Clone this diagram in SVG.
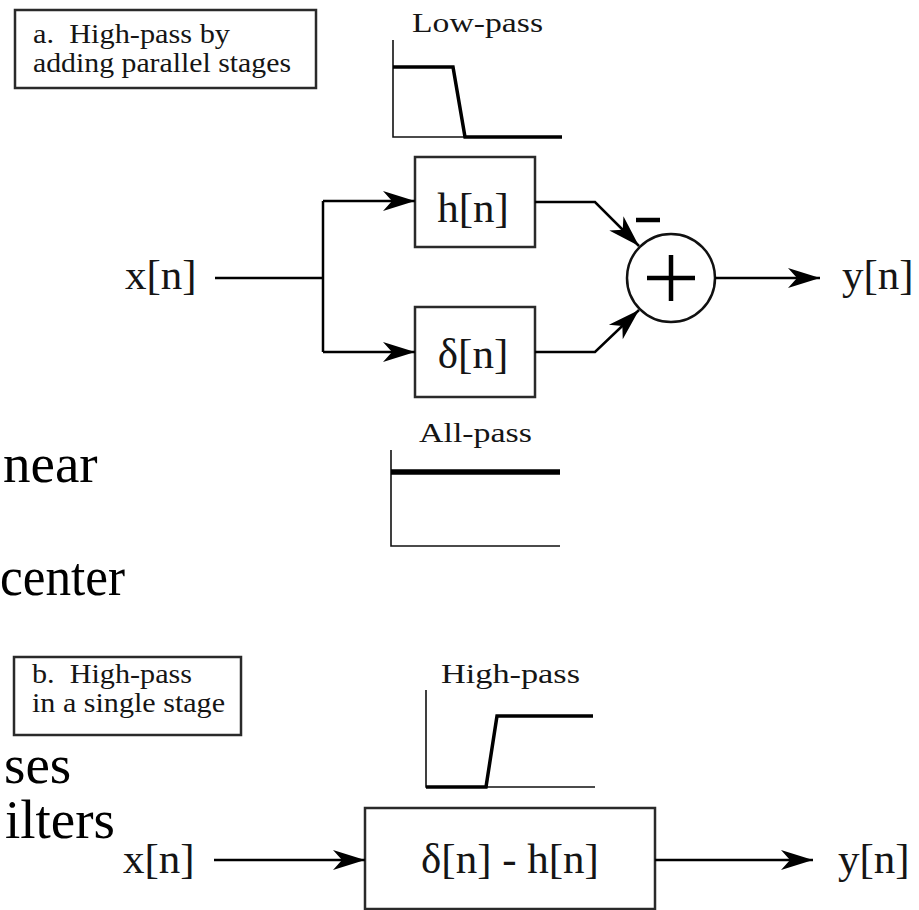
<svg xmlns="http://www.w3.org/2000/svg" width="919" height="910" viewBox="0 0 919 910">
<defs>
<style>
.bg{font-family:"Liberation Serif","Times New Roman",serif;font-size:55px;fill:#000}
.lbl{font-family:"Liberation Serif","Times New Roman",serif;font-size:27px;fill:#151515;white-space:pre}
.sig{font-family:"Liberation Serif","Times New Roman",serif;font-size:43px;fill:#151515}
.box{fill:#fff;stroke:#2a2a2a;stroke-width:2.5}
.wire{fill:none;stroke:#000;stroke-width:2.5}
.axis{fill:none;stroke:#111;stroke-width:1.6}
.resp{fill:none;stroke:#000;stroke-width:3.5;stroke-linejoin:miter}
</style>
<marker id="arr" markerUnits="userSpaceOnUse" markerWidth="34" markerHeight="22" refX="32" refY="10" orient="auto" overflow="visible">
<path d="M0,0 L32,10 L0,20 L9,10 Z" fill="#000"/>
</marker>
</defs>
<rect width="919" height="910" fill="#fff"/>

<g id="background-text">
<text class="bg" x="3" y="482">near</text>
<text class="bg" x="0" y="595" textLength="125" lengthAdjust="spacingAndGlyphs">center</text>
<text class="bg" x="4" y="783">ses</text>
<text class="bg" x="5" y="838">ilters</text>
</g>

<g id="caption-a">
<rect class="box" x="15" y="10" width="301" height="78"/>
<text class="lbl" x="33" y="43" textLength="197" lengthAdjust="spacingAndGlyphs">a.  High-pass by</text>
<text class="lbl" x="33" y="72" textLength="258" lengthAdjust="spacingAndGlyphs">adding parallel stages</text>
</g>

<g id="lowpass-plot">
<text class="lbl" x="412" y="32" textLength="131" lengthAdjust="spacingAndGlyphs">Low-pass</text>
<path class="axis" d="M393,40 V137 H562"/>
<path class="resp" d="M393,67 H453 L465,137 H562"/>
</g>

<g id="allpass-plot">
<text class="lbl" x="419" y="442" textLength="113" lengthAdjust="spacingAndGlyphs">All-pass</text>
<path class="axis" d="M391,450 V546 H560"/>
<path class="resp" style="stroke-width:5.5" d="M391,472 H560"/>
</g>

<g id="input-a">
<text class="sig" x="125" y="289">x[n]</text>
</g>

<g id="h-box">
<rect class="box" x="415" y="157" width="120" height="90"/>
<text class="sig" x="473" y="222" text-anchor="middle">h[n]</text>
</g>

<g id="delta-box">
<rect class="box" x="415" y="307" width="120" height="90"/>
<text class="sig" x="473" y="368" text-anchor="middle">δ[n]</text>
</g>

<g id="sum">
<circle cx="671" cy="278" r="44" fill="#fff" stroke="#111" stroke-width="2.5"/>
<path d="M647,278 H695 M671,255 V301" stroke="#000" stroke-width="4.5" fill="none"/>
<path d="M636,220 H660" stroke="#000" stroke-width="4.5" fill="none"/>
</g>

<g id="output-a">
<text class="sig" x="842" y="289">y[n]</text>
</g>

<g id="caption-b">
<rect class="box" x="14" y="657" width="227" height="78"/>
<text class="lbl" x="32" y="683" textLength="160" lengthAdjust="spacingAndGlyphs">b.  High-pass</text>
<text class="lbl" x="32" y="712" textLength="193" lengthAdjust="spacingAndGlyphs">in a single stage</text>
</g>

<g id="highpass-plot">
<text class="lbl" x="441" y="683" textLength="139" lengthAdjust="spacingAndGlyphs">High-pass</text>
<path class="axis" d="M426,690 V787 H595"/>
<path class="resp" d="M426,787 H486 L497,716 H593"/>
</g>

<g id="input-b">
<text class="sig" x="123" y="873">x[n]</text>
</g>

<g id="single-box">
<rect class="box" x="365" y="808" width="290" height="101"/>
<text class="sig" x="510" y="873" text-anchor="middle">δ[n] - h[n]</text>
</g>

<g id="output-b">
<text class="sig" x="838" y="873">y[n]</text>
</g>

<g id="connectors">
<path class="wire" d="M215,278 H323"/>
<path class="wire" d="M323,201 V352"/>
<path class="wire" d="M323,201 H415" marker-end="url(#arr)"/>
<path class="wire" d="M323,352 H415" marker-end="url(#arr)"/>
<path class="wire" d="M535,202 H595 L639,246" marker-end="url(#arr)"/>
<path class="wire" d="M535,352 H595 L639,310" marker-end="url(#arr)"/>
<path class="wire" d="M715,278 H820" marker-end="url(#arr)"/>
<path class="wire" d="M214,860 H365" marker-end="url(#arr)"/>
<path class="wire" d="M655,860 H813" marker-end="url(#arr)"/>
</g>
</svg>
